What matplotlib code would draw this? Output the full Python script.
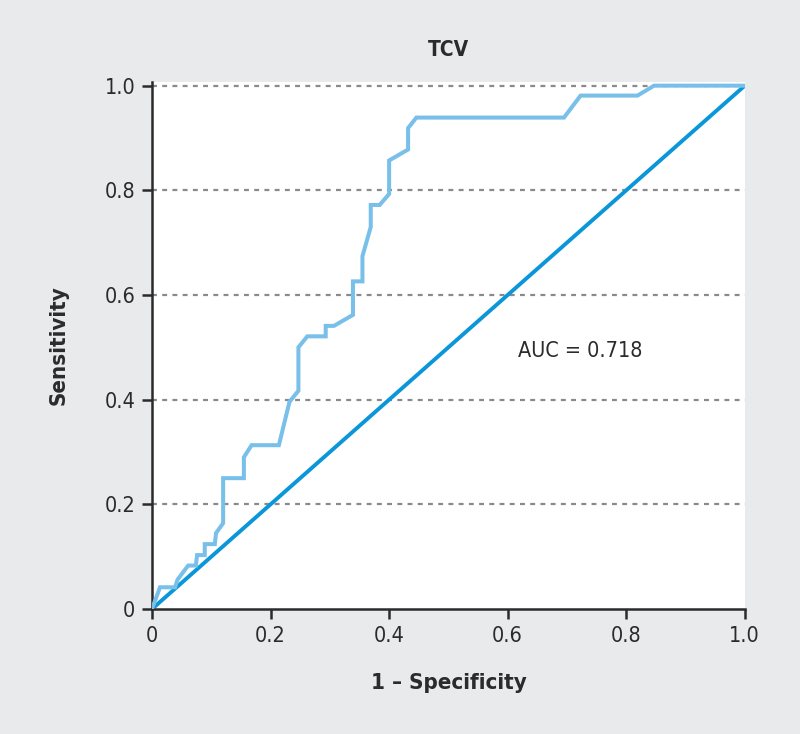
import matplotlib
matplotlib.use("Agg")
import matplotlib.pyplot as plt

# ROC data
fpr = [0, 0.0135, 0.039, 0.043, 0.061, 0.074, 0.076, 0.089, 0.089, 0.106,
       0.108, 0.12, 0.12, 0.155, 0.155, 0.168, 0.214, 0.232, 0.247, 0.247,
       0.262, 0.293, 0.293, 0.307, 0.339, 0.339, 0.355, 0.355, 0.369, 0.369,
       0.384, 0.40, 0.40, 0.432, 0.432, 0.446, 0.695, 0.723, 0.819, 0.847,
       1.0]
tpr = [0, 0.0415, 0.0415, 0.056, 0.083, 0.083, 0.103, 0.103, 0.124, 0.124,
       0.145, 0.164, 0.25, 0.25, 0.29, 0.313, 0.313, 0.396, 0.417, 0.5,
       0.521, 0.521, 0.541, 0.541, 0.562, 0.626, 0.626, 0.674, 0.73, 0.772,
       0.772, 0.793, 0.857, 0.878, 0.919, 0.939, 0.939, 0.981, 0.981, 1.0,
       1.0]
ref_x = [0, 1]
ref_y = [0, 1]
ticks = [0, 0.2, 0.4, 0.6, 0.8, 1.0]
tick_labels = ["0", "0.2", "0.4", "0.6", "0.8", "1.0"]
title = "TCV"
xlabel = "1 – Specificity"
ylabel = "Sensitivity"
auc_text = "AUC = 0.718"

plt.rcParams['font.family'] = ["DejaVu Sans"]
plt.rcParams['font.stretch'] = "condensed"

bg = "#e9eaec"
fig = plt.figure(figsize=(8, 7.34), dpi=100, facecolor=bg)
ax = fig.add_axes([0.19, 0.1703, 0.741, 0.718])
ax.set_facecolor("white")

for t in ticks[1:]:
    ax.axhline(t, color="#8a8a8a", lw=1.6, ls=(0, (2.2, 2.4)), zorder=1)

ax.plot(ref_x, ref_y, color="#0a96d9", lw=2.8, zorder=2, solid_capstyle="butt")
ax.plot(fpr, tpr, color="#78c0ea", lw=2.9, zorder=3, solid_joinstyle="miter")

ax.set_xlim(0, 1.0)
ax.set_ylim(0, 1.007)
ax.set_xticks(ticks)
ax.set_xticklabels(tick_labels)
ax.set_yticks(ticks)
ax.set_yticklabels(tick_labels)

for s in ["top", "right"]:
    ax.spines[s].set_visible(False)
for s in ["left", "bottom"]:
    ax.spines[s].set_color("#2b2b2b")
    ax.spines[s].set_linewidth(1.8)

ax.tick_params(axis="both", direction="out", length=7, width=1.8,
               color="#2b2b2b", labelsize=15.5, labelcolor="#2b2b2b", pad=5)

ax.set_title(title, fontsize=15, fontweight="bold", color="#2b2b2b", pad=19)
ax.set_xlabel(xlabel, fontsize=16, fontweight="bold", color="#2b2b2b", labelpad=20)
ax.set_ylabel(ylabel, fontsize=16, fontweight="bold", color="#2b2b2b", labelpad=26)

ax.text(0.617, 0.493, auc_text, fontsize=15.5, color="#2b2b2b", va="center", ha="left")

fig.savefig("out.png", dpi=100, facecolor=bg)
